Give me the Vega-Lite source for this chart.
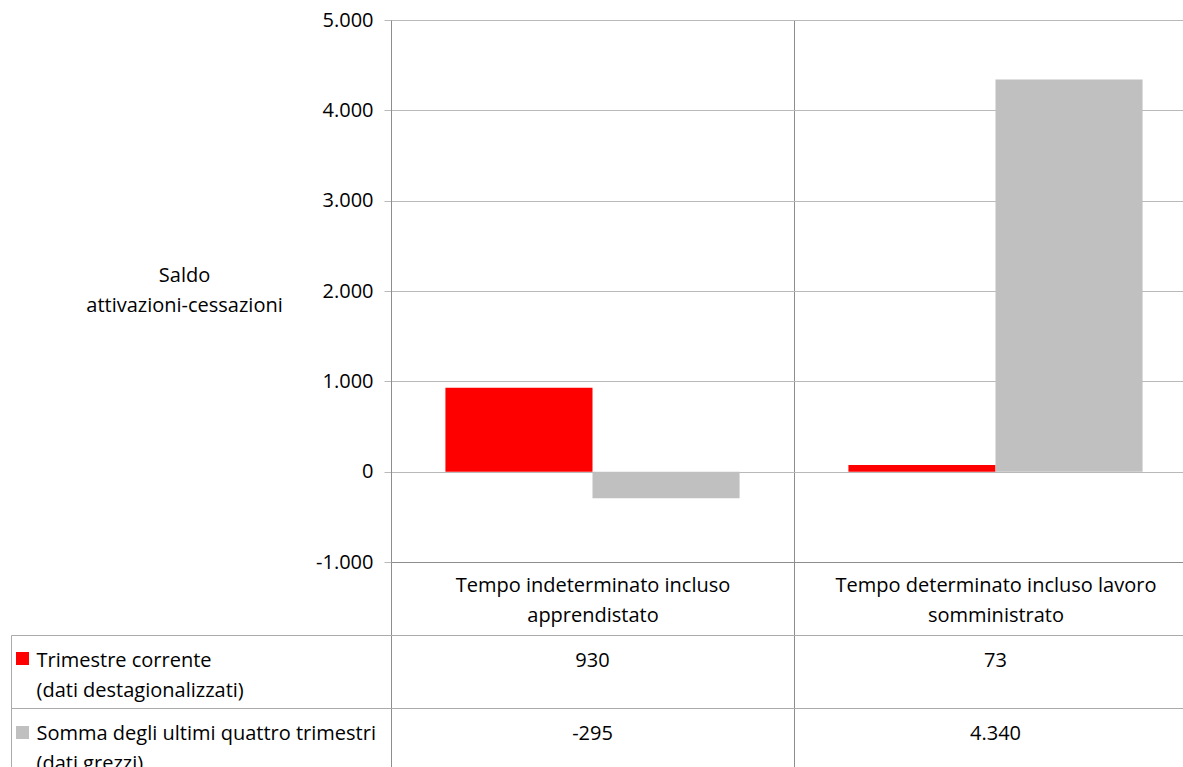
{
  "$schema": "https://vega.github.io/schema/vega-lite/v6.json",
  "autosize": {"type": "pad"},
  "padding": {"left": 10, "top": 10, "right": -14, "bottom": -15},
  "background": "white",
  "bounds": "flush",
  "spacing": 73,
  "config": {
    "font": "Open Sans",
    "view": {"stroke": null},
    "locale": {"number": {"decimal": ",", "thousands": ".", "grouping": [3], "currency": ["", " €"], "minus": "-"}},
    "axis": {"labelColor": "#000000", "titleColor": "#000000", "labelFont": "Open Sans", "titleFont": "Open Sans", "labelLimit": 0}
  },
  "data": {"values": [
    {"categoria": "Tempo indeterminato incluso apprendistato", "serie": "Trimestre corrente (dati destagionalizzati)", "valore": 930},
    {"categoria": "Tempo indeterminato incluso apprendistato", "serie": "Somma degli ultimi quattro trimestri (dati grezzi)", "valore": -295},
    {"categoria": "Tempo determinato incluso lavoro somministrato", "serie": "Trimestre corrente (dati destagionalizzati)", "valore": 73},
    {"categoria": "Tempo determinato incluso lavoro somministrato", "serie": "Somma degli ultimi quattro trimestri (dati grezzi)", "valore": 4340}
  ]},
  "vconcat": [
    {
      "width": 806,
      "height": 542,
      "mark": {"type": "bar", "strokeWidth": 0},
      "encoding": {
        "x": {
          "field": "categoria", "type": "nominal", "sort": null,
          "scale": {"paddingInner": 0, "paddingOuter": 0},
          "axis": {
            "title": null, "orient": "bottom",
            "domain": true, "domainColor": "#8d8d8d", "domainWidth": 1,
            "grid": true, "gridColor": "#8d8d8d", "gridWidth": 1,
            "ticks": true, "tickBand": "extent", "tickSize": 73, "tickColor": "#8d8d8d",
            "labelAngle": 0, "labelFontSize": 20, "labelLineHeight": 30, "labelLimit": 0,
            "labelBaseline": "top", "labelPadding": -60, "labelAlign": "center",
            "labelExpr": "[slice(datum.label, 0, lastindexof(datum.label, ' ')), slice(datum.label, lastindexof(datum.label, ' ') + 1)]"
          }
        },
        "xOffset": {
          "field": "serie", "type": "nominal", "sort": null,
          "scale": {"paddingInner": 0, "paddingOuter": 0.37}
        },
        "y": {
          "field": "valore", "type": "quantitative",
          "scale": {"domain": [-1000, 5000], "nice": false},
          "axis": {
            "values": [-1000, 0, 1000, 2000, 3000, 4000, 5000],
            "format": ",d",
            "grid": true, "gridColor": "#b9b9b9", "gridWidth": 1,
            "domain": true, "domainColor": "#8d8d8d",
            "tickSize": 7, "tickColor": "#b9b9b9",
            "labelPadding": 11, "labelFontSize": 20,
            "title": ["Saldo", "attivazioni-cessazioni"],
            "titleAngle": 0, "titleX": -207, "titleY": 255,
            "titleAlign": "center", "titleBaseline": "middle",
            "titleFontSize": 20, "titleFontWeight": "normal", "titleLineHeight": 30
          }
        },
        "color": {
          "field": "serie", "type": "nominal", "sort": null,
          "scale": {"range": ["#ff0000", "#c0c0c0"]},
          "legend": {
            "orient": "none", "legendX": -375, "legendY": 632,
            "title": null, "labelExpr": "''", "labelFontSize": 13,
            "symbolType": "square", "symbolSize": 169, "symbolStrokeWidth": 0,
            "symbolOpacity": 1, "rowPadding": 60, "padding": 0, "direction": "vertical"
          }
        }
      }
    },
    {
      "width": 806,
      "height": 146,
      "mark": {"type": "text", "fontSize": 20, "dy": -11, "baseline": "middle", "align": "center", "color": "#000000"},
      "encoding": {
        "x": {
          "field": "categoria", "type": "nominal", "sort": null,
          "scale": {"paddingInner": 0, "paddingOuter": 0},
          "axis": {
            "title": null, "labels": false, "ticks": false, "domain": false,
            "grid": true, "tickBand": "extent", "gridColor": "#8d8d8d"
          }
        },
        "y": {
          "field": "serie", "type": "nominal", "sort": null,
          "scale": {"paddingInner": 0, "paddingOuter": 0},
          "axis": {
            "title": null, "offset": 380,
            "domain": true, "domainColor": "#ababab",
            "grid": true, "gridColor": "#ababab", "tickBand": "extent",
            "ticks": true, "tickSize": -380, "tickColor": "#ababab",
            "labelAlign": "left", "labelBaseline": "middle", "labelPadding": 355,
            "labelFontSize": 20, "labelLineHeight": 30, "labelOffset": -11.5, "labelLimit": 0,
            "labelExpr": "[slice(datum.label, 0, indexof(datum.label, ' (')), slice(datum.label, indexof(datum.label, ' (') + 1)]"
          }
        },
        "text": {"field": "valore", "type": "quantitative", "format": ",d"}
      }
    }
  ]
}
